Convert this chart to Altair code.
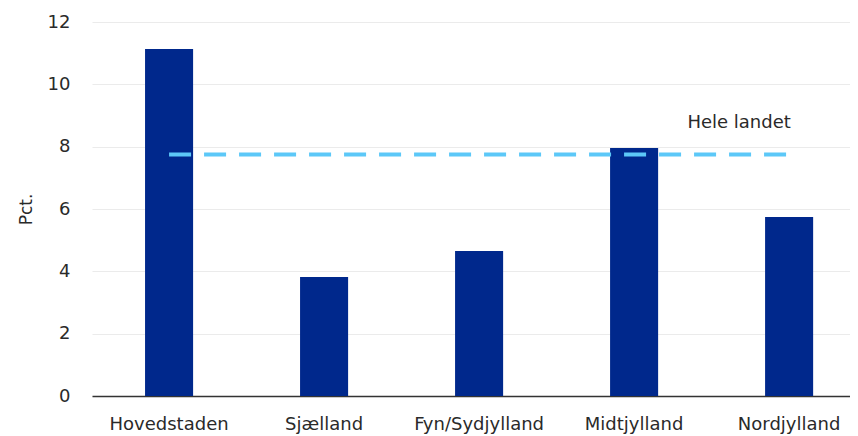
import altair as alt
import pandas as pd

regions = ["Hovedstaden", "Sjælland", "Fyn/Sydjylland", "Midtjylland", "Nordjylland"]
values = [11.13, 3.82, 4.65, 7.96, 5.74]
national = [7.75, 7.75, 7.75, 7.75, 7.75]
label_text = ["Hele landet"]
label_value = [8.75]

df = pd.DataFrame({"region": regions, "value": values, "national": national})
lab = pd.DataFrame({"region": ["Nordjylland"], "y": label_value, "text": label_text})

FONT = "DejaVu Sans"
TXT = "#2a2a2a"

x = alt.X("region:N", sort=regions, title=None,
          scale=alt.Scale(paddingInner=0.69, paddingOuter=0.29, align=0.59),
          axis=alt.Axis(labelAngle=0, labelFontSize=18, labelColor=TXT, labelFont=FONT,
                        domainColor="#333333", domainWidth=1.5, ticks=False, labelPadding=19,
                        grid=False))
y = alt.Y("value:Q", title="Pct.",
          scale=alt.Scale(domain=[0, 12]),
          axis=alt.Axis(values=[0, 2, 4, 6, 8, 10, 12], labelFontSize=18, labelColor=TXT,
                        labelFont=FONT, titleFont=FONT, titleFontSize=17, titleFontWeight="normal",
                        titleColor=TXT, domain=False, ticks=False, labelPadding=22,
                        gridColor="#ebebeb", gridWidth=1, titlePadding=12))

bars = alt.Chart(df).mark_bar(color="#00288c").encode(x=x, y=y)

line = alt.Chart(df).mark_line(color="#5cc8f8", strokeWidth=4, strokeDash=[22, 13]).encode(
    x=alt.X("region:N", sort=regions),
    y=alt.Y("national:Q"),
)

text = alt.Chart(lab).mark_text(fontSize=18, font=FONT, color=TXT, dx=-50,
                                baseline="middle").encode(
    x=alt.X("region:N", sort=regions),
    y=alt.Y("y:Q"),
    text="text:N",
)

chart = (bars + line + text).properties(
    width=758, height=374,
    autosize=alt.AutoSizeParams(type="none"),
    padding={"left": 84, "top": 14, "right": 0, "bottom": 40},
).configure_view(stroke=None)

chart.save("out.html", embed_options={"renderer": "svg", "actions": False})
